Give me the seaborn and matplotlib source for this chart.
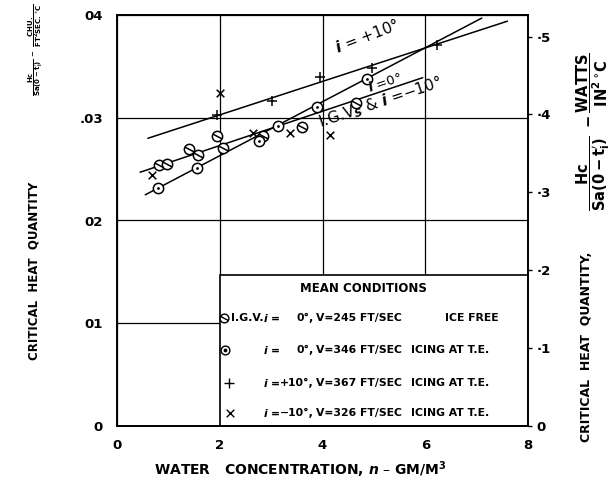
import numpy as np
import pandas as pd
import matplotlib
matplotlib.use("Agg")
import matplotlib.pyplot as plt
import seaborn as sns
from matplotlib.path import Path
from matplotlib.patches import Rectangle

# ---------------- data ----------------
igv_x = [0.82, 0.97, 1.40, 1.58, 1.94, 2.06, 2.85, 3.60, 4.65]
igv_y = [0.0254, 0.0255, 0.0270, 0.0264, 0.0282, 0.0271, 0.0282, 0.0291, 0.0314]

i0_x = [0.80, 1.56, 2.76, 3.13, 3.89, 4.86]
i0_y = [0.0232, 0.0251, 0.0277, 0.0292, 0.0310, 0.0338]

ip10_x = [1.95, 3.01, 3.95, 4.96, 6.23]
ip10_y = [0.0303, 0.0316, 0.0340, 0.0348, 0.0371]

im10_x = [0.68, 2.01, 2.65, 3.37, 4.15]
im10_y = [0.0244, 0.0324, 0.0285, 0.0285, 0.0283]

# faired lines (end points)
line_p10_x = [0.60, 7.60]
line_p10_y = [0.0280, 0.0394]
line_0_x = [0.55, 7.10]
line_0_y = [0.0225, 0.0397]
line_igv_x = [0.45, 5.95]
line_igv_y = [0.0247, 0.0339]

xticks = [0, 2, 4, 6, 8]
xtick_labels = ["0", "2", "4", "6", "8"]
yticks = [0, 0.01, 0.02, 0.03, 0.04]
ytick_labels = ["0", "01", "02", ".03", "04"]
rticks = [0, 0.1, 0.2, 0.3, 0.4, 0.5]
rtick_labels = ["0", "·1", "·2", "·3", "·4", "·5"]
watts_per_chu = 13.19  # W/in^2 degC per CHU/ft^2 sec degC

legend_title = "MEAN CONDITIONS"
legend_prefix = ["I.G.V.", "", "", ""]
legend_angle = ["0°,", "0°,", "+10°,", "−10°,"]
legend_speed = ["V=245 FT/SEC", "V=346 FT/SEC", "V=367 FT/SEC", "V=326 FT/SEC"]
legend_state = ["ICE FREE", "ICING AT T.E.", "ICING AT T.E.", "ICING AT T.E."]

# ---------------- style ----------------
sns.set_style("white")
plt.rcParams['font.family'] = ['DejaVu Sans']
plt.rcParams['mathtext.fontset'] = 'dejavusans'
plt.rcParams['font.weight'] = 'bold'
for key in ['text.color', 'axes.labelcolor', 'xtick.color', 'ytick.color']:
    plt.rcParams[key] = 'black'

fig = plt.figure(figsize=(6.12, 4.86), dpi=100)
W, H = 612, 486
ax = fig.add_axes([117 / W, 60 / H, 411 / W, 411 / H])

ax.set_xlim(0, 8)
ax.set_ylim(0, 0.04)
ax.set_xticks(xticks)
ax.set_xticklabels(xtick_labels)
ax.set_yticks(yticks)
ax.set_yticklabels(ytick_labels)
ax.tick_params(axis='both', length=0, labelsize=9.5)
ax.tick_params(axis='x', pad=9)
ax.tick_params(axis='y', pad=10)
ax.set_axisbelow(True)
ax.grid(True, color='black', lw=0.9)
for s in ax.spines.values():
    s.set_color('black')
    s.set_linewidth(1.4)

# markers
circ = Path.unit_circle()
slash = Path([[-0.85, 0.45], [0.85, -0.45]], [Path.MOVETO, Path.LINETO])
igv_marker = Path.make_compound_path(circ, slash)

# faired lines
for lx, ly in [(line_p10_x, line_p10_y), (line_0_x, line_0_y), (line_igv_x, line_igv_y)]:
    sns.lineplot(x=lx, y=ly, ax=ax, color='black', lw=1.1, sort=False, zorder=2)

# data points
sns.scatterplot(x=igv_x, y=igv_y, ax=ax, marker=igv_marker, s=55, facecolor='white',
                edgecolor='black', linewidth=1.1, zorder=3)
sns.scatterplot(x=i0_x, y=i0_y, ax=ax, marker='o', s=55, facecolor='white',
                edgecolor='black', linewidth=1.1, zorder=3)
sns.scatterplot(x=i0_x, y=i0_y, ax=ax, marker='o', s=4, color='black', linewidth=0, zorder=4)
sns.scatterplot(x=ip10_x, y=ip10_y, ax=ax, marker='+', s=45, color='black', linewidth=1.1, zorder=3)
sns.scatterplot(x=im10_x, y=im10_y, ax=ax, marker='x', s=30, color='black', linewidth=1.1, zorder=3)

# line labels
ax.text(4.3, 0.0360, r"$i$ = +10°", rotation=21, fontsize=11, fontweight='normal',
        rotation_mode='anchor', ha='left', va='bottom')
ax.text(4.93, 0.0322, r"$i$ =0°", rotation=19, fontsize=9.5, fontweight='normal',
        rotation_mode='anchor', ha='left', va='bottom')
ax.text(4.0, 0.0286, r"I.G.V$_S$ & $i$ =−10°", rotation=18.5, fontsize=11, fontweight='normal',
        rotation_mode='anchor', ha='left', va='bottom')

# legend box
def py(px):
    return 0.04 * (426 - px) / 411

def px_x(px):
    return 8 * (px - 117) / 411

ax.add_patch(Rectangle((2, 0), 6, py(275), facecolor='white', edgecolor='black',
                       lw=1.2, zorder=1.5))
ax.text(px_x(363), py(288), legend_title, ha='center', va='center', fontsize=8.5, zorder=5)
row_y = [py(318), py(350), py(383), py(413)]
sym_x = [px_x(224), px_x(225), px_x(229), px_x(230)]
sym_markers = [igv_marker, 'o', '+', 'x']
for k in range(4):
    if sym_markers[k] == 'o':
        ax.scatter([sym_x[k]], [row_y[k]], marker='o', s=40, facecolor='white',
                   edgecolor='black', lw=1, zorder=5, clip_on=False)
        ax.scatter([sym_x[k]], [row_y[k]], marker='o', s=3, color='black', zorder=6, clip_on=False)
    elif sym_markers[k] == '+':
        ax.scatter([sym_x[k]], [row_y[k]], marker='+', s=45, color='black', lw=1, zorder=5)
    elif sym_markers[k] == 'x':
        ax.scatter([sym_x[k]], [row_y[k]], marker='x', s=30, color='black', lw=1, zorder=5)
    else:
        ax.scatter([sym_x[k]], [row_y[k]], marker=sym_markers[k], s=40, facecolor='white',
                   edgecolor='black', lw=1, zorder=5, clip_on=False)
    fs = 7.8
    if legend_prefix[k]:
        ax.text(px_x(231), row_y[k], legend_prefix[k], ha='left', va='center', fontsize=fs, zorder=5)
    ax.text(px_x(263), row_y[k], r"$i$ =", ha='left', va='center', fontsize=fs, zorder=5)
    ax.text(px_x(314), row_y[k], legend_angle[k], ha='right', va='center', fontsize=fs, zorder=5)
    ax.text(px_x(316), row_y[k], legend_speed[k], ha='left', va='center', fontsize=fs, zorder=5)
    sx = 445 if k == 0 else 411
    ax.text(px_x(sx), row_y[k], legend_state[k], ha='left', va='center', fontsize=fs, zorder=5)

# right axis
ax2 = ax.twinx()
ax2.set_ylim(0, 0.04 * watts_per_chu)
ax2.set_yticks(rticks)
ax2.set_yticklabels(rtick_labels)
ax2.tick_params(axis='y', length=3, width=1, direction='out', labelsize=9.5, pad=3)
ax2.grid(False)
for s in ax2.spines.values():
    s.set_visible(False)

# axis labels
fig.text(300 / W, 1 - 470 / H, r"WATER   CONCENTRATION, $n$ – GM/M$^3$", ha='center', va='center',
         fontsize=10)
# left side
fig.text(34 / W, 1 - 271 / H, "CRITICAL  HEAT  QUANTITY", rotation=90, ha='center', va='center',
         fontsize=8.5)
fig.text(36 / W, 1 - 50 / H,
         r"$\dfrac{\mathrm{Hc}}{\mathrm{Sa(0-t_i^{\prime})}}\ -\ \dfrac{\mathrm{CHU.}}{\mathrm{FT^2SEC.^{\circ}C}}$",
         rotation=90, ha='center', va='center', fontsize=5.0)
# right side
fig.text(593 / W, 1 - 347 / H + 0 * 0, "", fontsize=1)
fig.text(587 / W, 1 - 347 / H, "CRITICAL  HEAT  QUANTITY,", rotation=90, ha='center', va='center',
         fontsize=9)
fig.text(593 / W, 1 - 132 / H,
         r"$\dfrac{\mathrm{Hc}}{\mathrm{Sa(0-t_i^{\prime})}}\ -\dfrac{\mathrm{WATTS}}{\mathrm{IN^2\,^{\circ}C}}$",
         rotation=90, ha='center', va='center', fontsize=10.5)

fig.savefig("out.png", dpi=100)
